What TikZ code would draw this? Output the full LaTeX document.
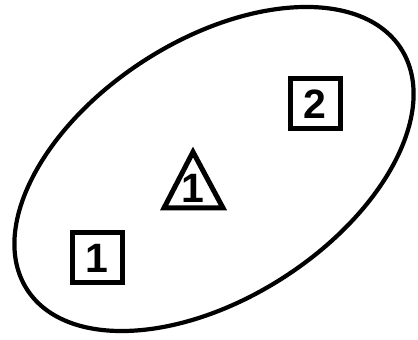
\documentclass[tikz,border=0pt]{standalone}
\usepackage{fontspec}
\setmainfont{Liberation Sans}
\usetikzlibrary{shapes.geometric}
\begin{document}
\begin{tikzpicture}[x=1pt,y=1pt,
  numbox/.style={draw,line width=5pt,minimum size=50pt,inner sep=0pt,font=\fontsize{41}{41}\selectfont\bfseries},
  numlabel/.style={inner sep=0pt,font=\fontsize{41}{41}\selectfont\bfseries},
  outline/.style={draw,ellipse,line width=4.2pt,inner sep=0pt}]
\useasboundingbox (0,0) rectangle (418,340);
\node[outline,minimum width=444.8pt,minimum height=257.8pt,rotate=32.8] (ell) at (214,171) {};
\node[numbox] (b1) at (97,82) {1};
\node[numbox] (b2) at (315,236) {2};
\coordinate (tA) at (193,188);
\coordinate (tL) at (164,132);
\coordinate (tR) at (223,132);
\draw[line width=5pt,line join=miter] (tA) -- (tL) -- (tR) -- cycle;
\node[numlabel] (tn) at (193,152) {1};
\end{tikzpicture}
\end{document}
